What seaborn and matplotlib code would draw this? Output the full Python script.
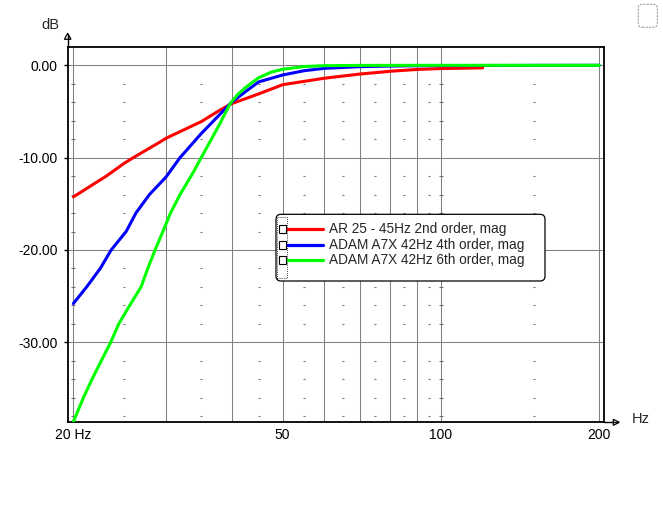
import numpy as np
import pandas as pd
import matplotlib
matplotlib.use("Agg")
import matplotlib.pyplot as plt
import matplotlib.transforms as mtransforms
from matplotlib.patches import FancyBboxPatch, Rectangle, Polygon
from matplotlib.lines import Line2D
import seaborn as sns

# ---------------- data ----------------
series_names = ["AR 25 - 45Hz 2nd order, mag",
                "ADAM A7X 42Hz 4th order, mag",
                "ADAM A7X 42Hz 6th order, mag"]
series_colors = ["#ff0000", "#0000ff", "#00ff00"]

red_freq = [20.0, 23.1, 25.0, 26.0, 29.3, 30.0, 35.0, 38.0, 40.0, 45.0, 50.0,
            60.0, 70.0, 80.0, 90.0, 100.0, 120.0]
red_db = [-14.25, -12.0, -10.6, -10.0, -8.27, -7.9, -6.1, -4.85, -4.15, -3.1,
          -2.1, -1.4, -0.95, -0.65, -0.45, -0.35, -0.28]

blue_freq = [20.0, 21.2, 22.5, 23.6, 25.2, 26.3, 27.9, 30.0, 31.9, 35.0,
             38.0, 40.0, 42.5, 45.0, 50.0, 55.0, 60.0, 70.0, 80.0, 90.0,
             100.0, 150.0, 200.0]
blue_db = [-25.8, -24.0, -22.0, -20.0, -18.0, -16.0, -14.0, -12.1,
           -10.0, -7.4, -5.3, -4.0, -2.85, -1.8, -1.05, -0.58, -0.33, -0.15,
           -0.08, -0.05, -0.03, -0.01, 0.0]

green_freq = [20.0, 20.9, 21.7, 22.6, 23.55, 24.4, 25.6, 26.9, 27.7, 28.6,
              29.6, 30.6, 31.9, 33.8, 35.0, 36.6, 38.0, 39.6, 40.0, 41.0,
              42.5, 45.0, 47.5, 50.0, 55.0, 60.0, 70.0, 100.0, 200.0]
green_db = [-38.6, -36.0, -34.0, -32.0, -30.0, -28.0, -26.0, -24.0, -22.0,
            -20.0, -18.0, -16.0, -14.0, -11.6, -10.0, -8.0, -6.3, -4.3, -3.95,
            -3.2, -2.4, -1.35, -0.75, -0.43, -0.13, -0.04, -0.01, 0.0, 0.0]

x_major = [20, 30, 40, 50, 60, 70, 80, 90, 100, 200]
x_major_labels = ["20 Hz", "", "", "50", "", "", "", "", "100", "200"]
x_minor = [25, 35, 45, 55, 65, 75, 85, 95, 150]
x_decades = [20, 100]
y_major = [0, -10, -20, -30]
y_major_labels = ["0.00", "-10.00", "-20.00", "-30.00"]
y_minor = [-2, -4, -6, -8, -12, -14, -16, -18, -22, -24, -26, -28,
           -32, -34, -36, -38]

# ---------------- style ----------------
sns.set_style("white")
plt.rcParams["font.family"] = ["Liberation Sans", "DejaVu Sans"]
plt.rcParams["font.size"] = 10

W, H, DPI = 663, 516, 100
fig = plt.figure(figsize=(W / DPI, H / DPI), dpi=DPI)
pixT = mtransforms.Affine2D().scale(1.0 / DPI) + fig.dpi_scale_trans


def Y(y):
    return H - y


ax_l, ax_r, ax_t, ax_b = 67.7, 604.3, 47.3, 422.0
ax = fig.add_axes([ax_l / W, 1 - ax_b / H, (ax_r - ax_l) / W, (ax_b - ax_t) / H])

frames = []
for name, f, d in zip(series_names, [red_freq, blue_freq, green_freq],
                      [red_db, blue_db, green_db]):
    frames.append(pd.DataFrame({"freq": f, "dB": d, "series": name}))
df = pd.concat(frames, ignore_index=True)

ax.set_xscale("log")
sns.lineplot(data=df, x="freq", y="dB", hue="series", hue_order=series_names,
             palette=series_colors, linewidth=2.2, legend=False, ax=ax,
             sort=False, estimator=None, zorder=3)

ax.set_xlim(19.51, 204.4)
ax.set_ylim(-38.63, 1.95)
ax.set_xticks(x_major)
ax.set_xticklabels(x_major_labels)
ax.xaxis.set_minor_locator(matplotlib.ticker.NullLocator())
ax.set_yticks(y_major)
ax.set_yticklabels(y_major_labels)
ax.set_xlabel("")
ax.set_ylabel("")
ax.tick_params(axis="x", length=0, pad=4, labelsize=10, colors="black")
ax.tick_params(axis="y", length=3, width=1, direction="out", pad=4,
               labelsize=10, colors="black", left=True)
ax.grid(True, which="major", color="#808080", lw=0.75, ls="-")
ax.set_axisbelow(True)
for s in ax.spines.values():
    s.set_visible(True)
    s.set_color("black")
    s.set_linewidth(1.3)

# minor grid marks
for xv in x_minor:
    ax.plot([xv] * len(y_minor), y_minor, ls="none", marker="_", ms=1.4,
            mew=0.8, color="#707070", zorder=1)
for xv in x_decades:
    ax.plot([xv] * len(y_minor), y_minor, ls="none", marker="_", ms=3.4,
            mew=0.8, color="#707070", zorder=1)

# axis arrows
fig.add_artist(Line2D([ax_l, ax_l], [Y(ax_t), Y(35)], transform=pixT,
                      color="black", lw=1.0))
fig.add_artist(Polygon([(64.4, Y(39.3)), (71.0, Y(39.3)), (67.7, Y(33.3))],
                       closed=True, fc="white", ec="black", lw=0.9,
                       transform=pixT))
fig.add_artist(Line2D([ax_r, 617], [Y(ax_b), Y(ax_b)], transform=pixT,
                      color="black", lw=1.0))
fig.add_artist(Polygon([(613.3, Y(419.3)), (613.3, Y(425.3)), (619.3, Y(422.3))],
                       closed=True, fc="white", ec="black", lw=0.9,
                       transform=pixT))
fig.text(50, Y(25), "dB", transform=pixT, ha="center", va="center",
         fontsize=10.5)
fig.text(641, Y(419), "Hz", transform=pixT, ha="center", va="center",
         fontsize=10.5)

# legend
fig.add_artist(FancyBboxPatch((276, Y(281)), 269, 66.7,
                              boxstyle="round,pad=0,rounding_size=5",
                              fc="white", ec="black", lw=0.9, transform=pixT,
                              zorder=5))
fig.add_artist(Rectangle((276.8, Y(277.7)), 10.5, 61, fill=False, ec="black",
                         ls=(0, (1, 1.5)), lw=0.6, transform=pixT, zorder=6))
leg_y = [229, 245, 260]
for name, col, yy in zip(series_names, series_colors, leg_y):
    fig.add_artist(Line2D([286.5, 323.3], [Y(yy), Y(yy)], transform=pixT,
                          color=col, lw=2.3, zorder=6))
    fig.add_artist(Rectangle((278.6, Y(yy) - 3.8), 7.6, 7.6, fc="white",
                             ec="black", lw=0.8, transform=pixT, zorder=7))
    fig.text(329.3, Y(yy), name, transform=pixT, ha="left", va="center",
             fontsize=9.8, zorder=7)

# top-right box
fig.add_artist(FancyBboxPatch((638.3, Y(27.3)), 19, 23,
                              boxstyle="round,pad=0,rounding_size=4",
                              fc="none", ec="#a0a0a0", lw=0.8, ls=(0, (2, 1)),
                              transform=pixT))

fig.savefig("out.png", dpi=DPI)
